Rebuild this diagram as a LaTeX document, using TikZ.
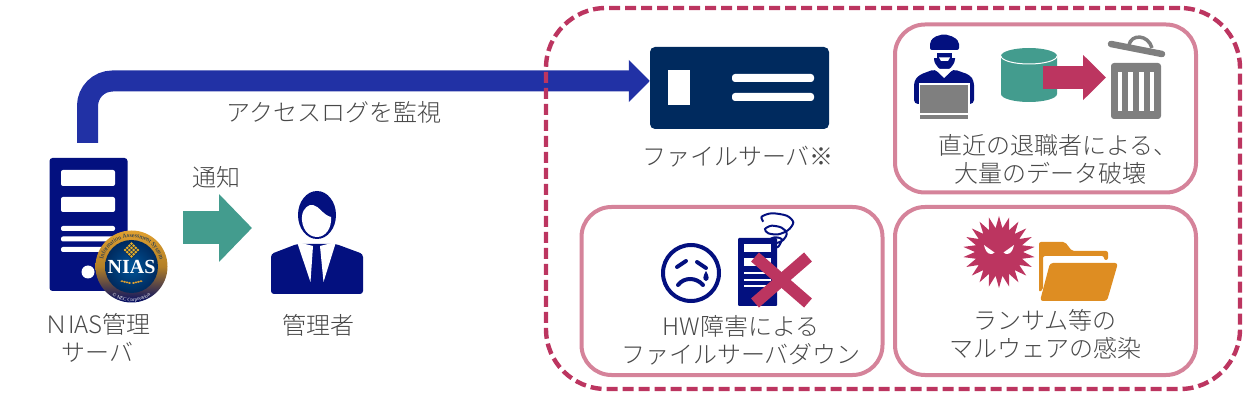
\documentclass[tikz,border=0pt]{standalone}
\usepackage{fontspec}
\setmainfont{Noto Sans CJK JP}[UprightFont=* Light]
\newfontfamily\badgefont{Liberation Serif}
\usetikzlibrary{arrows.meta,shapes.geometric,decorations.text}

\definecolor{iconnavy}{HTML}{03107F}
\definecolor{logblue}{HTML}{2131A5}
\definecolor{fileblue}{HTML}{002A5E}
\definecolor{tealgreen}{HTML}{439C8E}
\definecolor{crimson}{HTML}{BC3560}
\definecolor{panelpink}{HTML}{D5839A}
\definecolor{folderorange}{HTML}{DE8D22}
\definecolor{trashgray}{HTML}{7F7F7F}
\definecolor{labelgray}{HTML}{484848}
\definecolor{badgegold}{HTML}{E0A030}

\tikzset{
  lbl/.style={font=\fontsize{24}{28}\selectfont,text=labelgray,align=center,inner sep=0pt},
  panel/.style={draw=panelpink,line width=4,rounded corners=30,minimum width=301,minimum height=168},
  blockarrow/.style n args={4}{draw=#1,line width=#2,-{Triangle[length=#3,width=#4,fill=#1]}}
}

\begin{document}
\begin{tikzpicture}[x=1pt,y=1pt]
  \useasboundingbox (0,0) rectangle (1248,-403);

  \node[fill=iconnavy,rounded corners=3,minimum width=78,minimum height=133] (niassrv) at (88.5,-224.5) {};
  \node[fill=fileblue,rounded corners=5,minimum width=179,minimum height=82] (filesrv) at (739.5,-88) {};
  \coordinate (logstart) at ([xshift=-1pt,yshift=15pt]niassrv.north);
  \coordinate (logend) at ([yshift=7pt]filesrv.west);
  \draw[blockarrow={logblue}{21}{21pt}{41pt},rounded corners=25] (logstart) |- (logend);

  \node[draw=crimson,line width=4.4,dash pattern=on 11pt off 5pt,rounded corners=60,minimum width=694,minimum height=381] (riskarea) at (893,-198.5) {};
  \node[panel] (wipepanel) at (1045.5,-108.5) {};
  \node[panel] (hwpanel) at (732,-291) {};
  \node[panel] (malwarepanel) at (1045.5,-291) {};

  \fill[white] (668,-70) rectangle ++(22,-35);
  \fill[white,rounded corners=3] (732,-74) rectangle ++(82,-8);
  \fill[white,rounded corners=3] (732,-93) rectangle ++(82,-8);

  \fill[white,rounded corners=2] (61,-170) rectangle ++(54,-16);
  \fill[white,rounded corners=2] (61,-197) rectangle ++(54,-15);
  \foreach \y in {226,236.5,247} {
    \fill[white,rounded corners=2] (61,-\y) rectangle ++(54,-5);
  }
  \fill[white] (88,-272) circle (6.5);

  \begin{scope}[shift={(131.5,-266.5)}]
    \shade[top color=badgegold,bottom color=iconnavy!80!black,middle color=badgegold!80!black] (0,0) circle (36);
    \shade[inner color=blue!45!cyan!60!black,outer color=fileblue] (0,0) circle (26.5);
    \begin{scope}[shift={(0,16.5)},rotate=45,draw=fileblue,line width=0.4]
      \fill[badgegold!85!yellow] (-6,-6) rectangle ++(12,12);
      \draw (-6,-6) grid[step=3] ++(12,12);
    \end{scope}
    \foreach \a in {0,...,3} {
      \fill[badgegold] (-2-\a*2.5,-16.5+\a*0.6) ellipse (1.6 and 1);
      \fill[badgegold] (2+\a*2.5,-16.5+\a*0.6) ellipse (1.6 and 1);
    }
    \node[font=\badgefont\bfseries\fontsize{20}{20}\selectfont,text=white,inner sep=0pt] (niasmark) at (0,-0.5) {NIAS};
    \path[decorate,decoration={text along path,text align=center,text color=fileblue,
      text={|\badgefont\fontsize{6}{6}\selectfont|Information Assessment System}}]
      (-29,-3) arc[start angle=186,end angle=-6,radius=29.2];
    \path[decorate,decoration={text along path,text align=center,text color=white,
      text={|\badgefont\fontsize{5}{5}\selectfont|© NEC Corporation}}]
      (-27,-22) arc[start angle=219,end angle=321,radius=34.5];
  \end{scope}

  \coordinate (notefrom) at (183,-228);
  \coordinate (noteto) at (252,-228);
  \draw[blockarrow={tealgreen}{33}{33pt}{66pt}] (notefrom) -- (noteto);

  \begin{scope}[iconnavy]
    \fill (317,-215) ellipse (19 and 24);
    \fill[white] (302,-216) .. controls (303,-208) and (309,-204) .. (313,-205) .. controls (319,-206) and (323,-215) .. (331,-217) .. controls (332,-229) and (325,-237) .. (317,-237) .. controls (308,-237) and (301,-228) .. (302,-216) -- cycle;
    \fill[rounded corners=3] (271,-294) -- (271,-254) -- (297,-244) -- (336,-244) -- (363,-254) -- (363,-294) -- cycle;
    \fill[white] (297,-242) -- (313,-246) -- (310.5,-282) -- cycle;
    \fill[white] (320,-246) -- (336,-242) -- (323.5,-282) -- cycle;
  \end{scope}

  \begin{scope}[iconnavy]
    \fill[rounded corners=4] (914,-104) -- (914,-81) -- (919,-75) -- (935,-69) -- (944,-78) -- (953,-69) -- (970,-75) -- (974,-81) -- (974,-104) -- cycle;
    \fill[rounded corners=3] (934,-50) -- (934,-62) -- (940,-70) -- (949,-70) -- (955,-62) -- (955,-50) -- cycle;
    \fill[rounded corners=2] (930,-50) -- (930,-42) -- (934,-37) -- (944,-34) -- (954,-37) -- (959,-42) -- (959,-50) -- cycle;
    \fill[white] (933,-50) rectangle ++(23,-3);
    \fill[white] (933,-52) rectangle ++(4,-6);
    \fill[white] (952,-52) rectangle ++(4,-6);
    \fill[white] (939,-57.5) -- (950,-57.5) -- (948,-61) -- (941,-61) -- cycle;
    \fill[white] (935,-69) -- (944,-78) -- (953,-69) -- cycle;
  \end{scope}
  \fill[white] (918.5,-83.5) rectangle ++(51,-31);
  \fill[trashgray] (920,-85) rectangle ++(48,-28);
  \fill[trashgray] (920,-115) rectangle ++(48,-4);

  \fill[tealgreen] (1001,-56) -- (1001,-94) arc[start angle=180,end angle=360,x radius=28,y radius=8] -- (1057,-56) arc[start angle=0,end angle=180,x radius=28,y radius=8] -- cycle;
  \draw[white,line width=1] (1001,-56) arc[start angle=180,end angle=360,x radius=28,y radius=8];
  \coordinate (wipefrom) at (1043,-77.5);
  \coordinate (wipeto) at (1106,-77.5);
  \draw[blockarrow={crimson}{23}{23pt}{44pt}] (wipefrom) -- (wipeto);

  \fill[trashgray,rounded corners=3] (1111,-63) -- (1161,-63) -- (1161,-119) -- (1111,-119) -- cycle;
  \foreach[evaluate={1117.5+\i*10.7} as \x] \i in {0,...,3} {
    \fill[white] (\x,-72) rectangle ++(4.8,-39);
  }
  \draw[trashgray,line width=6.5,line cap=round] (1111,-44) -- (1162,-54);
  \draw[trashgray,line width=3.5] (1129,-45) .. controls (1131,-34) and (1148,-34) .. (1152,-48);

  \begin{scope}[iconnavy]
    \draw[line width=4] (691,-273) circle (28);
    \draw[line width=4,line cap=round] (677,-267) -- (686,-261);
    \draw[line width=4,line cap=round] (697,-262) -- (706,-268);
    \draw[line width=4,line cap=round] (678,-285) .. controls (684,-277) and (696,-277) .. (703,-285);
    \fill (706,-271) .. controls (709,-276) and (710,-280) .. (706,-281) .. controls (702,-280) and (703,-276) .. (706,-271) -- cycle;
    \fill[rounded corners=1] (738,-238) rectangle ++(39,-68);
    \draw[line width=2] plot[smooth] coordinates {(763.3,-221.7) (761.7,-216.7) (771.7,-213.3) (786.7,-215.7) (793.3,-222.3) (788.3,-230) (778.3,-234.3) (768.3,-233.3) (765,-229) (771.7,-225.7) (781.7,-227.7) (786.7,-233.3) (783.3,-240) (775,-243.3) (769.3,-240) (775,-237.3) (781.7,-239.3) (778.3,-246.7) (773.3,-248.3)};
  \end{scope}
  \fill[white] (744,-244) rectangle ++(27,-8);
  \fill[white] (744,-258) rectangle ++(27,-8);
  \foreach \y in {272.5,279,285.5} {
    \fill[white] (744,-\y) rectangle ++(27,-2);
  }
  \draw[crimson,line width=12] (755,-257) -- (808,-303);
  \draw[crimson,line width=12] (808,-257) -- (755,-303);

  \node[star,star points=22,star point ratio=1.5,fill=crimson,minimum size=72,inner sep=0pt] (virus) at (999,-252) {};
  \fill[white] (984,-245) .. controls (988,-248) and (991,-250) .. (994.5,-252.5) .. controls (992,-255.5) and (986,-255) .. (984,-245) -- cycle;
  \fill[white] (1014,-245) .. controls (1010,-248) and (1007,-250) .. (1003.5,-252.5) .. controls (1006,-255.5) and (1012,-255) .. (1014,-245) -- cycle;

  \fill[folderorange,rounded corners=2] (1039,-292) -- (1039,-242) -- (1065,-242) -- (1072,-251) -- (1108,-251) -- (1108,-260) -- (1104,-260) -- (1104,-256) -- (1043,-256) -- (1043,-290) -- cycle;
  \fill[folderorange,rounded corners=3] (1050,-263) -- (1118,-263) -- (1107,-301) -- (1040,-301) -- cycle;

  \node[lbl] (loglbl) at (334,-112) {アクセスログを監視};
  \node[lbl] (notelbl) at (216,-177) {通知};
  \node[lbl] (niaslbl) at (97.5,-338) {ＮIAS管理\\サーバ};
  \node[lbl] (adminlbl) at (318,-325) {管理者};
  \node[lbl] (filelbl) at (738,-157) {ファイルサーバ※};
  \node[lbl] (wipelbl) at (1050,-159) {\hspace*{16pt}直近の退職者による、\\大量のデータ破壊};
  \node[lbl] (hwlbl) at (741,-340) {HW障害による\\ファイルサーバダウン};
  \node[lbl] (malwarelbl) at (1045,-334) {ランサム等の\\マルウェアの感染};
\end{tikzpicture}
\end{document}
